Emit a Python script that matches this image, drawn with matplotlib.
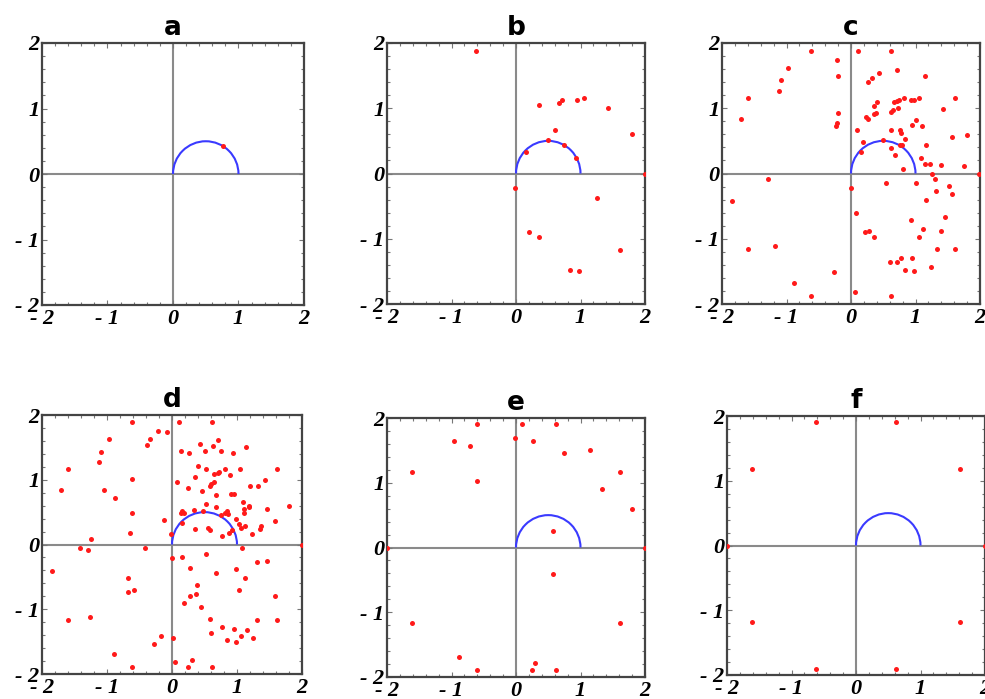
import matplotlib
matplotlib.use("Agg")
import matplotlib.pyplot as plt
from matplotlib.patches import Arc
from matplotlib.ticker import MultipleLocator

titles = ["a", "b", "c", "d", "e", "f"]

pts_a = [(0.76, 0.42)]

pts_b = [(-0.62, 1.88), (0.36, 1.05), (0.67, 1.08), (0.71, 1.12), (0.94, 1.12),
         (1.06, 1.16), (1.42, 1.00), (1.80, 0.60), (0.61, 0.67), (0.49, 0.51),
         (0.15, 0.33), (0.75, 0.43), (0.93, 0.23), (2.00, 0.00), (-0.02, -0.22),
         (1.25, -0.38), (0.20, -0.90), (0.36, -0.97), (1.62, -1.17), (0.84, -1.48),
         (0.98, -1.50)]

pts_c = [(-0.62, 1.87), (-0.21, 1.74), (-0.20, 1.50), (-0.97, 1.62), (-1.08, 1.43),
         (-1.12, 1.26), (-1.60, 1.16), (-1.71, 0.83), (-0.20, 0.92), (-0.21, 0.78),
         (-0.23, 0.73), (0.11, 1.87), (0.62, 1.87), (0.71, 1.59), (0.43, 1.54),
         (0.32, 1.47), (0.27, 1.40), (1.15, 1.49), (0.41, 1.10), (0.36, 1.03),
         (0.39, 0.92), (0.35, 0.91), (0.24, 0.87), (0.27, 0.84), (0.66, 1.10),
         (0.71, 1.11), (0.75, 1.13), (0.82, 1.15), (0.93, 1.12), (0.98, 1.12),
         (1.06, 1.15), (0.73, 1.01), (0.65, 0.97), (0.62, 0.94), (1.01, 0.82),
         (0.95, 0.74), (1.10, 0.73), (1.43, 0.99), (1.62, 1.16), (1.56, 0.56),
         (1.80, 0.59), (0.09, 0.66), (0.62, 0.67), (0.76, 0.67), (0.77, 0.62),
         (0.84, 0.53), (0.49, 0.51), (0.19, 0.49), (0.62, 0.39), (0.76, 0.43),
         (0.79, 0.43), (0.16, 0.33), (0.68, 0.29), (1.16, 0.43), (1.08, 0.24),
         (0.80, 0.07), (1.14, 0.15), (1.23, 0.15), (1.39, 0.13), (1.75, 0.11),
         (1.98, 0.00), (1.25, -0.01), (1.30, -0.08), (1.01, -0.15), (0.54, -0.15),
         (1.32, -0.27), (1.52, -0.19), (1.56, -0.32), (1.17, -0.40), (1.46, -0.67),
         (0.93, -0.72), (0.00, -0.22), (0.08, -0.60), (1.12, -0.85), (1.06, -0.98),
         (1.40, -0.88), (1.33, -1.16), (1.62, -1.16), (0.21, -0.90), (0.28, -0.88),
         (0.36, -0.97), (-1.29, -0.08), (-1.85, -0.42), (-1.60, -1.16), (-1.18, -1.11),
         (0.61, -1.36), (0.71, -1.36), (0.78, -1.29), (0.94, -1.30), (0.84, -1.48),
         (0.97, -1.50), (1.24, -1.44), (-0.27, -1.51), (-0.88, -1.68), (-0.62, -1.88),
         (0.06, -1.81), (0.62, -1.88)]

pts_d = [(-0.61, 1.89), (0.10, 1.89), (0.61, 1.89), (-0.22, 1.76), (-0.07, 1.74),
         (-0.97, 1.63), (-0.34, 1.63), (-0.38, 1.53), (-1.09, 1.43), (-1.12, 1.27),
         (-1.60, 1.16), (-1.71, 0.84), (-1.05, 0.84), (-0.87, 0.72), (-0.61, 1.01),
         (-0.61, 0.49), (-0.12, 0.38), (-0.65, 0.18), (-1.25, 0.08), (-1.42, -0.06),
         (-1.30, -0.08), (-0.42, -0.06), (-1.85, -0.41), (-0.68, -0.52), (-0.59, -0.70),
         (-0.67, -0.74), (-1.60, -1.16), (-1.26, -1.12), (-0.89, -1.69), (-0.61, -1.89),
         (-0.27, -1.53), (-0.17, -1.41), (0.01, -1.44), (0.00, -0.21), (-0.01, 0.16),
         (0.05, -1.81), (0.25, -1.89), (0.30, -1.78), (0.61, -1.89),
         (0.14, 1.45), (0.26, 1.42), (0.43, 1.55), (0.51, 1.44), (0.63, 1.52),
         (0.71, 1.61), (0.75, 1.45), (0.94, 1.41), (1.14, 1.50), (0.40, 1.22),
         (0.53, 1.16), (0.65, 1.09), (0.70, 1.11), (0.73, 1.12), (0.82, 1.16),
         (0.89, 1.07), (1.05, 1.16), (0.35, 1.05), (0.07, 0.97), (0.25, 0.88),
         (0.46, 0.82), (0.58, 0.91), (0.60, 0.94), (0.64, 0.97), (0.67, 0.76),
         (0.91, 0.78), (0.95, 0.78), (1.20, 0.90), (1.32, 0.91), (1.43, 1.00),
         (1.61, 1.16), (1.80, 0.60), (1.46, 0.55), (1.58, 0.37), (1.09, 0.65),
         (1.10, 0.55), (1.10, 0.49), (1.19, 0.60), (1.19, 0.58), (0.99, 0.39),
         (1.03, 0.32), (1.13, 0.29), (1.06, 0.26), (1.37, 0.28), (1.35, 0.24),
         (1.23, 0.16), (0.87, 0.17), (0.77, 0.13), (0.92, 0.23), (0.53, 0.63),
         (0.67, 0.58), (0.34, 0.54), (0.47, 0.52), (0.16, 0.52), (0.14, 0.48),
         (0.18, 0.49), (0.76, 0.46), (0.81, 0.48), (0.85, 0.51), (0.86, 0.47),
         (0.16, 0.33), (0.36, 0.24), (0.55, 0.26), (0.59, 0.23), (2.00, 0.00),
         (1.08, -0.05), (0.53, -0.14), (0.16, -0.19), (0.28, -0.37), (0.68, -0.44),
         (0.99, -0.38), (1.12, -0.52), (1.31, -0.27), (1.46, -0.26), (0.39, -0.63),
         (0.28, -0.79), (0.37, -0.77), (0.19, -0.90), (0.45, -0.96), (1.03, -0.70),
         (1.58, -0.80), (0.59, -1.15), (1.31, -1.16), (1.61, -1.16), (0.77, -1.28),
         (0.95, -1.31), (1.15, -1.32), (0.60, -1.36), (1.24, -1.44), (1.06, -1.42),
         (0.85, -1.48), (0.98, -1.50)]

pts_e = [(-0.61, 1.90), (0.10, 1.90), (0.62, 1.90), (-0.96, 1.64), (-0.72, 1.57),
         (-0.02, 1.69), (0.27, 1.65), (1.14, 1.51), (0.75, 1.46), (-1.61, 1.17),
         (1.61, 1.17), (-0.61, 1.02), (1.33, 0.91), (1.80, 0.60), (0.57, 0.26),
         (-2.00, 0.00), (2.00, 0.00), (0.57, -0.41), (-1.61, -1.17), (1.61, -1.17),
         (-0.89, -1.69), (0.29, -1.79), (0.25, -1.89), (-0.61, -1.89), (0.62, -1.89)]

pts_f = [(-0.62, 1.90), (0.62, 1.90), (-1.62, 1.18), (1.62, 1.18), (-2.00, 0.00),
         (2.00, 0.00), (-1.62, -1.18), (1.62, -1.18), (-0.62, -1.90), (0.62, -1.90)]

all_pts = [pts_a, pts_b, pts_c, pts_d, pts_e, pts_f]

ticks = [-2, -1, 0, 1, 2]
tick_labels = ["- 2", "- 1", "0", "1", "2"]

# axes rectangles in pixels (left, top, right, bottom)
W, H = 985, 699
boxes = [(42, 43, 304, 305), (387, 43, 645, 304), (722, 43, 980, 304),
         (42, 415, 302, 674), (387, 418, 645, 677), (727, 416, 985, 675)]

fig = plt.figure(figsize=(W / 100, H / 100), dpi=100)

for box, title, pts in zip(boxes, titles, all_pts):
    l, t, r, b = box
    ax = fig.add_axes([l / W, 1 - b / H, (r - l) / W, (b - t) / H])
    ax.set_xlim(-2, 2)
    ax.set_ylim(-2, 2)
    ax.axhline(0, color="#8a8a8a", lw=1.5, zorder=1)
    ax.axvline(0, color="#8a8a8a", lw=1.5, zorder=1)
    ax.add_patch(Arc((0.5, 0), 1, 1, theta1=0, theta2=180, color="#3a3aff", lw=1.5, zorder=2))
    xs = [p[0] for p in pts]
    ys = [p[1] for p in pts]
    ax.plot(xs, ys, "o", color="#ff1a1a", markersize=3.6, markeredgewidth=0, zorder=3)

    ax.set_xticks(ticks)
    ax.set_yticks(ticks)
    ax.set_xticklabels(tick_labels)
    ax.set_yticklabels(tick_labels)
    ax.xaxis.set_minor_locator(MultipleLocator(0.2))
    ax.yaxis.set_minor_locator(MultipleLocator(0.2))
    ax.tick_params(which="both", direction="in", top=True, right=True,
                   color="#777777", width=0.8)
    ax.tick_params(which="major", length=3.5)
    ax.tick_params(which="minor", length=2)
    ax.tick_params(axis="x", pad=3)
    ax.tick_params(axis="y", pad=2)
    for lab in ax.get_xticklabels() + ax.get_yticklabels():
        lab.set_fontfamily("Liberation Serif")
        lab.set_fontstyle("italic")
        lab.set_fontweight("bold")
        lab.set_fontsize(16)
    for sp in ax.spines.values():
        sp.set_color("#444444")
        sp.set_linewidth(1.6)
    ax.set_title(title, fontsize=19, fontweight="bold", fontfamily="DejaVu Sans", pad=6)

fig.savefig("out.png", dpi=100)
